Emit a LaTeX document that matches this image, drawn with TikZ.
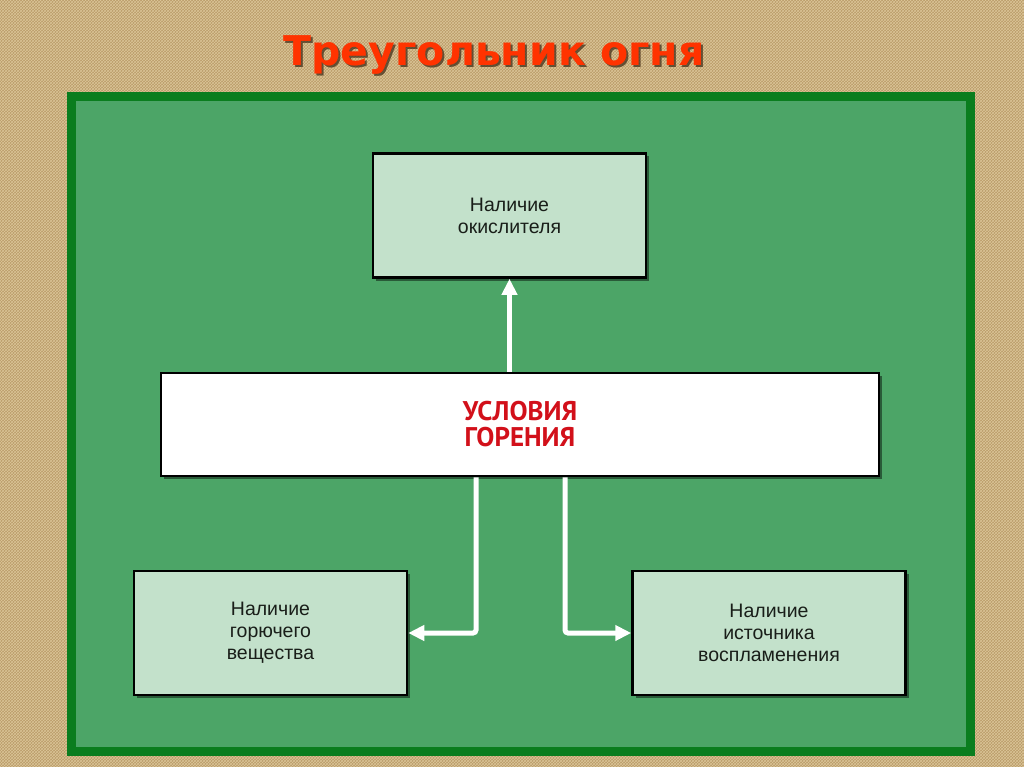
\documentclass[tikz,border=0pt]{standalone}
\usepackage{fontspec}
\setmainfont{Liberation Sans}
\newfontfamily\titlefont{DejaVu Sans}
\newfontfamily\headfont{PT Sans}
\usetikzlibrary{shadows,arrows.meta,patterns}
\definecolor{burlap}{RGB}{186,155,105}
\definecolor{burlaplight}{RGB}{232,214,170}
\definecolor{panelborder}{RGB}{10,125,30}
\definecolor{panelfill}{RGB}{76,165,103}
\definecolor{boxfill}{RGB}{195,225,203}
\definecolor{titlered}{RGB}{255,51,0}
\definecolor{headred}{RGB}{210,16,26}
\definecolor{textdark}{RGB}{25,30,25}
\tikzset{
  infobox/.style={draw=black, line width=2.5pt, fill=boxfill, minimum width=273pt, minimum height=124pt,
    align=center, text=textdark, font=\fontsize{19.5}{22}\selectfont, inner sep=0pt,
    drop shadow={shadow xshift=3pt, shadow yshift=-3pt, opacity=0.45, fill=black}},
  mainbox/.style={draw=black, line width=2.5pt, fill=white, minimum width=718pt, minimum height=103pt,
    align=center, text=headred, font=\headfont\bfseries\fontsize{27}{26}\selectfont, inner sep=0pt,
    drop shadow={shadow xshift=3pt, shadow yshift=-3pt, opacity=0.45, fill=black}},
  arr/.style={draw=white, line width=5pt, rounded corners=3pt, -{Triangle[width=15pt,length=16pt]}},
  titlestyle/.style={font=\titlefont\bfseries\fontsize{41}{41}\selectfont, inner sep=0pt}
}
\begin{document}
\begin{tikzpicture}[x=1pt,y=-1pt]
\useasboundingbox (0,0) rectangle (1024,767);
% background burlap
\fill[burlap] (0,0) rectangle (1024,767);
\fill[pattern=crosshatch, pattern color=burlaplight, opacity=0.7] (0,0) rectangle (1024,767);
% title
\node[titlestyle, text=black!70!brown, opacity=0.7] (titleshadow) at (496,57) {Треугольник огня};
\node[titlestyle, text=titlered] (title) at (494,55) {Треугольник огня};
% panel
\fill[panelborder] (67,92) rectangle (975,756);
\fill[panelfill] (76,101) rectangle (966,747);
% boxes
\node[infobox] (top) at (509.5,215.5) {Наличие\\окислителя};
\node[mainbox] (mid) at (520,424.5) {УСЛОВИЯ\\ГОРЕНИЯ};
\node[infobox] (bl) at (270.5,633) {Наличие\\горючего\\вещества};
\node[infobox] (br) at (769,633) {Наличие\\источника\\воспламенения};
% connectors
\draw[arr] (top.south |- mid.north) -- (top.south);
\draw[arr] ([xshift=-44pt]mid.south) |- (bl.east);
\draw[arr] ([xshift=45pt]mid.south) |- (br.west);
\end{tikzpicture}
\end{document}
